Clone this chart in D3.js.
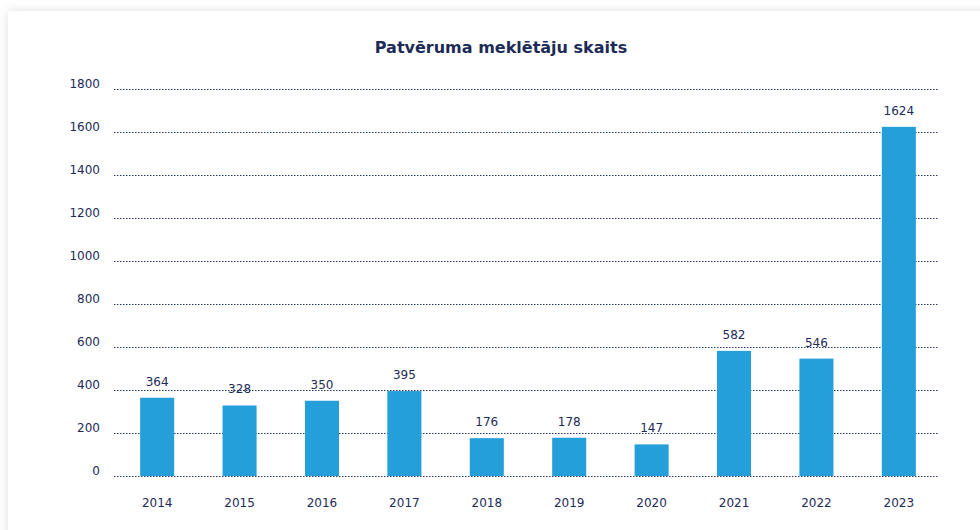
<!DOCTYPE html>
<html>
<head>
<meta charset="utf-8">
<script src="https://cdn.jsdelivr.net/npm/d3@7"></script>
<style>
  body { margin: 0; background: #fff; overflow: hidden; }
  #card {
    position: absolute; left: 8px; top: 11px; width: 1000px; height: 540px;
    background: #fff; box-shadow: 0 0 10px rgba(0,0,0,0.13);
  }
  svg { position: absolute; left: 0; top: 0; }
  text { font-family: Verdana, "DejaVu Sans", sans-serif; fill: #1d2b57; }
</style>
</head>
<body>
<div id="card"></div>
<script>
const WIDTH = 980, HEIGHT = 530;
const MARGINS = {left: 114, right: 42, top: 89, bottom: 54};

const years = ["2014", "2015", "2016", "2017", "2018", "2019", "2020", "2021", "2022", "2023"];
const seekers = [364, 328, 350, 395, 176, 178, 147, 582, 546, 1624];
const yTicks = [0, 200, 400, 600, 800, 1000, 1200, 1400, 1600, 1800];

const data = years.map((y, i) => ({year: y, value: seekers[i]}));

const svg = d3.select("body").append("svg")
  .attr("width", WIDTH)
  .attr("height", HEIGHT);

// bars sit ~2px right of the grid start
const xScale = d3.scaleBand()
  .domain(years)
  .range([MARGINS.left + 2, WIDTH - MARGINS.right + 2])
  .paddingInner(0.587)
  .paddingOuter(0.293);

const yScale = d3.scaleLinear()
  .domain([0, 1800])
  .range([HEIGHT - MARGINS.bottom, MARGINS.top]);

// title
svg.append("text")
  .attr("x", 501)
  .attr("y", 53)
  .attr("text-anchor", "middle")
  .attr("font-size", "16px")
  .attr("font-weight", "bold")
  .text("Patvēruma meklētāju skaits");

// gridlines + y labels
const yAxis = d3.axisLeft(yScale)
  .tickValues(yTicks)
  .tickFormat(d3.format("d"))
  .tickSize(-(WIDTH - MARGINS.left - MARGINS.right))
  .tickPadding(14);

svg.append("g")
  .attr("transform", "translate(" + MARGINS.left + ",0)")
  .call(yAxis)
  .call(g => g.select(".domain").remove())
  .call(g => g.selectAll(".tick line")
    .attr("stroke", "#2a3766")
    .attr("stroke-dasharray", "1.5,1.5")
    .attr("stroke-width", 1))
  .call(g => g.selectAll(".tick text")
    .attr("font-size", "12px")
    .attr("dy", "-0.15em")
    .style("fill", "#1d2b57"));

// bars
svg.selectAll("rect.bar")
  .data(data)
  .enter()
  .append("rect")
  .attr("class", "bar")
  .attr("x", d => xScale(d.year))
  .attr("width", xScale.bandwidth())
  .attr("y", d => yScale(d.value))
  .attr("height", d => yScale(0) - yScale(d.value))
  .attr("fill", "#259fd9");

// value labels
svg.selectAll("text.val")
  .data(data)
  .enter()
  .append("text")
  .attr("class", "val")
  .attr("x", d => xScale(d.year) + xScale.bandwidth() / 2)
  .attr("y", d => yScale(d.value) - 12)
  .attr("text-anchor", "middle")
  .attr("font-size", "12px")
  .text(d => d.value);

// x axis labels
const xAxis = d3.axisBottom(xScale).tickSize(0).tickPadding(22);
svg.append("g")
  .attr("transform", "translate(0," + yScale(0) + ")")
  .call(xAxis)
  .call(g => g.select(".domain").remove())
  .call(g => g.selectAll(".tick text")
    .attr("font-size", "12px")
    .style("fill", "#1d2b57"));
</script>
</body>
</html>
